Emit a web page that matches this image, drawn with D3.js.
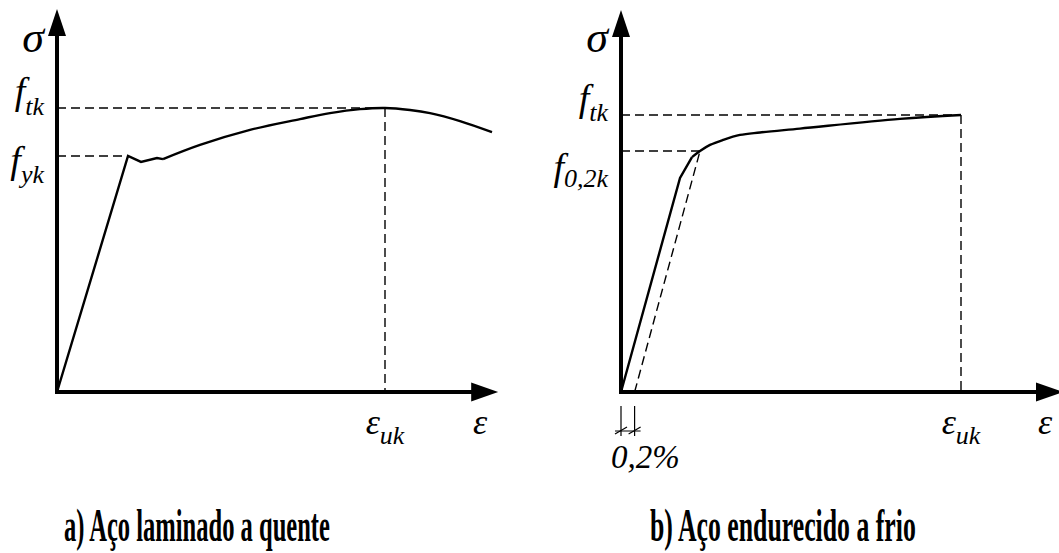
<!DOCTYPE html>
<html>
<head>
<meta charset="utf-8">
<script src="https://cdn.jsdelivr.net/npm/d3@7"></script>
<style>
  html, body { margin: 0; padding: 0; background: #fff; }
  svg { display: block; }
</style>
</head>
<body>
<svg id="chart" width="1059" height="553"></svg>
<script>
// Hot-rolled steel: strain (%) and stress (normalised by f_tk)
const hotStrain = [0, 2.165, 2.561, 3.049, 3.232, 4.36, 5.884, 7.409, 8.323, 9.238, 10, 10.762, 11.372, 12.287, 13.262];
const hotStress = [0, 0.831, 0.81, 0.824, 0.82, 0.87, 0.923, 0.961, 0.982, 0.996, 1, 0.993, 0.982, 0.954, 0.915];
const hotFyk = 0.831, hotFtk = 1, hotEuk = 10;

// Cold-worked steel: strain (%) and stress (normalised by f_tk)
const coldStrain = [0, 0.868, 1.044, 1.162, 1.309, 1.5, 1.75, 2.044, 2.632, 4.103, 5];
const coldStress = [0, 0.773, 0.848, 0.87, 0.892, 0.91, 0.928, 0.937, 0.951, 0.986, 1];
const coldF02k = 0.87, coldFtk = 1, coldEuk = 5, offsetStrain = 0.2;

const captions = ["a) Aço laminado a quente", "b) Aço endurecido a frio"];

const SERIF = "Liberation Serif";
const svg = d3.select("#chart");

function mathText(sel, size) {
  return sel.append("text").attr("font-family", SERIF).attr("font-style", "italic")
    .attr("fill", "#000").attr("font-size", size);
}

function panel(cfg) {
  const g = svg.append("g");
  const x = cfg.x, y = cfg.y;
  const x0 = x(0), y0 = y(0);
  const xTip = x(cfg.xMax), yTip = y(cfg.yMax);

  // axes: thick shafts with filled arrow heads
  g.append("line").attr("x1", x0).attr("y1", y0 + 2).attr("x2", x0).attr("y2", yTip + 24)
    .attr("stroke", "#000").attr("stroke-width", 4);
  g.append("path").attr("d", `M${x0},${yTip} L${x0 - 9},${yTip + 27} L${x0 + 9},${yTip + 27} Z`).attr("fill", "#000");
  g.append("line").attr("x1", x0 - 2).attr("y1", y0).attr("x2", xTip - 24).attr("y2", y0)
    .attr("stroke", "#000").attr("stroke-width", 4);
  g.append("path").attr("d", `M${xTip},${y0} L${xTip - 27},${y0 - 9.5} L${xTip - 27},${y0 + 9.5} Z`).attr("fill", "#000");

  // dashed reference lines
  const dash = (x1, y1, x2, y2) => g.append("line")
    .attr("x1", x1).attr("y1", y1).attr("x2", x2).attr("y2", y2)
    .attr("stroke", "#000").attr("stroke-width", 1.4).attr("stroke-dasharray", "9,5");
  cfg.dashes.forEach(d => dash(x(d[0]), y(d[1]), x(d[2]), y(d[3])));

  // stress-strain curve: straight part then smooth hardening branch
  const pts = cfg.strain.map((s, i) => [s, cfg.stress[i]]);
  const lin = d3.line().x(d => x(d[0])).y(d => y(d[1]));
  const smooth = d3.line().x(d => x(d[0])).y(d => y(d[1])).curve(d3.curveCatmullRom.alpha(0.5));
  g.append("path").attr("d", lin(pts.slice(0, cfg.split + 1)))
    .attr("fill", "none").attr("stroke", "#000").attr("stroke-width", 2.4).attr("stroke-linejoin", "miter");
  g.append("path").attr("d", smooth(pts.slice(cfg.split)))
    .attr("fill", "none").attr("stroke", "#000").attr("stroke-width", 2.4);

  // axis titles
  mathText(g, 44).attr("x", x0 - 13).attr("y", 52).attr("text-anchor", "end").text("σ");
  mathText(g, 36).attr("x", xTip - 18).attr("y", 434).attr("text-anchor", "middle").text("ε");

  // ε_uk under the axis
  const eu = mathText(g, 36).attr("x", x(cfg.euk)).attr("y", 434).attr("text-anchor", "middle");
  eu.append("tspan").text("ε");
  eu.append("tspan").attr("font-size", 26).attr("dy", 10).text("uk");

  // stress labels on the vertical axis
  cfg.stressLabels.forEach(l => {
    const t = mathText(g, 38).attr("x", x0 - 13).attr("y", y(l.v) + l.dy).attr("text-anchor", "end");
    t.append("tspan").text("f");
    t.append("tspan").attr("font-size", 26).attr("dy", l.sub).text(l.s);
  });

  // caption, squeezed horizontally to a fixed width
  const cap = g.append("text").attr("font-family", SERIF).attr("font-weight", "bold").attr("fill", "#000")
    .attr("x", 0).attr("y", 0).attr("font-size", 46).text(cfg.caption);
  const natural = cap.node().getComputedTextLength();
  cap.attr("transform", `translate(${cfg.capX},541) scale(${266 / natural},1)`);
  return g;
}

// a) hot-rolled steel
const xHot = d3.scaleLinear([0, 10], [57, 385]);
const yHot = d3.scaleLinear([0, 1], [392, 108]);
panel({
  x: xHot, y: yHot, xMax: 13.45, yMax: 1.349,
  strain: hotStrain, stress: hotStress, split: 4, euk: hotEuk,
  dashes: [[0, hotFtk, hotEuk, hotFtk], [0, hotFyk, hotStrain[1], hotFyk], [hotEuk, hotFtk, hotEuk, 0]],
  stressLabels: [{ v: hotFtk, s: "tk", dy: -4, sub: 11 }, { v: hotFyk, s: "yk", dy: 17, sub: 10 }],
  caption: captions[0], capX: 64
});

// b) cold-worked steel
const xCold = d3.scaleLinear([0, 5], [621, 961]);
const yCold = d3.scaleLinear([0, 1], [392, 115]);
const gCold = panel({
  x: xCold, y: yCold, xMax: 6.5, yMax: 1.379,
  strain: coldStrain, stress: coldStress, split: 2, euk: coldEuk,
  dashes: [[0, coldFtk, coldEuk, coldFtk], [0, coldF02k, coldStrain[3], coldF02k], [coldEuk, coldFtk, coldEuk, 0],
           [offsetStrain, 0, coldStrain[3], coldF02k]],
  stressLabels: [{ v: coldFtk, s: "tk", dy: -4, sub: 10 }, { v: coldF02k, s: "0,2k", dy: 29, sub: 7 }],
  caption: captions[1], capX: 650
});

// 0,2% offset dimension below the axis
[0, offsetStrain].forEach(s => {
  const xs = xCold(s);
  gCold.append("line").attr("x1", xs).attr("y1", 406).attr("x2", xs).attr("y2", 436)
    .attr("stroke", "#000").attr("stroke-width", 1.2);
  gCold.append("line").attr("x1", xs - 6).attr("y1", 434).attr("x2", xs + 6).attr("y2", 427)
    .attr("stroke", "#000").attr("stroke-width", 1.2);
});
gCold.append("line").attr("x1", xCold(0) - 6).attr("y1", 431).attr("x2", xCold(offsetStrain) + 6).attr("y2", 431)
  .attr("stroke", "#000").attr("stroke-width", 1);
mathText(gCold, 33).attr("x", 611).attr("y", 468).text("0,2%");
</script>
</body>
</html>
